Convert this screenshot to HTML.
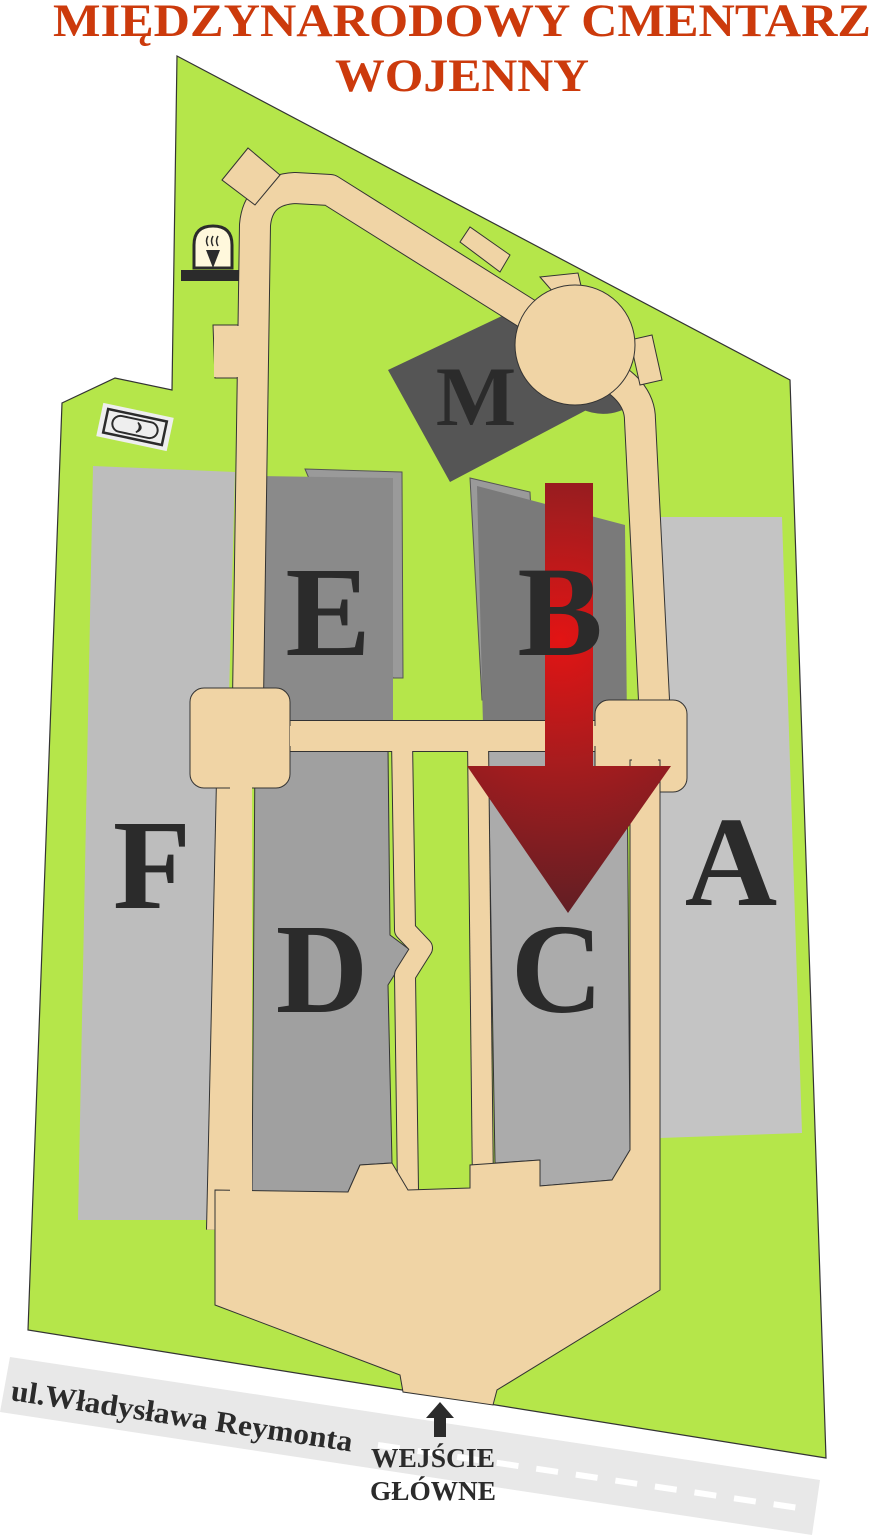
<!DOCTYPE html>
<html><head><meta charset="utf-8"><style>
html,body{margin:0;padding:0;background:#fff;}
svg{display:block;}
</style></head><body>
<svg width="871" height="1536" viewBox="0 0 871 1536" xmlns="http://www.w3.org/2000/svg">
<defs>
<radialGradient id="rg" cx="560" cy="640" r="280" gradientUnits="userSpaceOnUse">
<stop offset="0" stop-color="#e21414"/><stop offset="0.45" stop-color="#a61c1e"/><stop offset="1" stop-color="#5e1e24"/>
</radialGradient>
</defs>
<!-- road -->
<polygon points="10,1357 820,1480 812,1535 0,1412" fill="#e8e8e8"/>
<line x1="378" y1="1445" x2="812" y2="1510" stroke="#fff" stroke-width="6" stroke-dasharray="22,18"/>
<!-- green -->
<polygon points="177,56 790,380 826,1458 28,1330 62,403 115,378 172,390" fill="#b5e64a" stroke="#333" stroke-width="1.2"/>
<!-- grey sections -->
<polygon points="93,466 235,472 215,1220 78,1220" fill="#bdbdbd"/>
<polygon points="655,517 782,517 802,1133 660,1138" fill="#c4c4c4"/>
<polygon points="305,469 402,472 403,678 393,678" fill="#9a9a9a" stroke="#555" stroke-width="1"/>
<polygon points="258,476 393,478 393,725 258,725" fill="#8a8a8a"/>
<polygon points="470,478 530,492 540,700 482,700" fill="#9a9a9a" stroke="#555" stroke-width="1"/>
<polygon points="477,486 625,525 627,725 483,725" fill="#7a7a7a"/>
<polygon points="255,748 388,748 390,935 410,950 388,985 392,1163 360,1165 348,1192 252,1192" fill="#a0a0a0" stroke="#333" stroke-width="1"/>
<polygon points="488,748 627,748 630,1150 612,1180 540,1186 540,1160 495,1163" fill="#ababab" stroke="#333" stroke-width="1"/>
<!-- M -->
<polygon points="388,370 525,305 615,395 450,482" fill="#555"/>
<path d="M560,395 Q600,430 640,400 L625,390 Z" fill="#555"/>
<!-- notch -->
<polygon points="213,325 240,325 240,378 215,378" fill="#f0d4a5" stroke="#333" stroke-width="1"/>
<!-- paths outline -->
<g fill="none" stroke-linejoin="round" stroke-linecap="butt">
<g stroke="#333" stroke-width="32">
<path d="M248,700 L255,225 Q258,190 295,188 L330,190 L545,325"/>
<path d="M600,370 Q640,390 640,420 L655,720"/>
<path d="M200,736 L680,736"/>
<path d="M232,780 L222,1230"/>
<path d="M402,740 L405,930 L422,948 L405,975 L408,1190" stroke-width="22"/>
<path d="M478,740 L483,1190" stroke-width="22"/>
</g>
<g stroke="#f0d4a5" stroke-width="30">
<path d="M248,700 L255,225 Q258,190 295,188 L330,190 L545,325"/>
<path d="M600,370 Q640,390 640,420 L655,720"/>
<path d="M200,736 L680,736"/>
<path d="M232,780 L222,1230"/>
<path d="M402,740 L405,930 L422,948 L405,975 L408,1190" stroke-width="20"/>
<path d="M478,740 L483,1190" stroke-width="20"/>
</g>
</g>
<rect x="214" y="326" width="30" height="51" fill="#f0d4a5"/>
<polygon points="222,180 248,148 280,175 255,205" fill="#f0d4a5" stroke="#333" stroke-width="1"/>
<polygon points="460,242 470,227 510,255 500,272" fill="#f0d4a5" stroke="#333" stroke-width="1"/>
<polygon points="540,277 578,273 582,290 560,300" fill="#f0d4a5" stroke="#333" stroke-width="1"/>
<polygon points="630,340 652,335 662,380 640,385" fill="#f0d4a5" stroke="#333" stroke-width="1"/>
<circle cx="575" cy="345" r="60" fill="#f0d4a5" stroke="#333" stroke-width="1"/>
<rect x="190" y="688" width="100" height="100" rx="14" fill="#f0d4a5" stroke="#333" stroke-width="1"/>
<rect x="595" y="700" width="92" height="92" rx="14" fill="#f0d4a5" stroke="#333" stroke-width="1"/>
<polygon points="215,1190 348,1192 360,1165 392,1163 408,1190 470,1188 470,1165 540,1160 540,1186 612,1180 630,1150 630,760 660,760 660,1290 497,1390 493,1405 403,1392 400,1375 215,1305" fill="#f0d4a5" stroke="#333" stroke-width="1"/>
<rect x="230" y="748" width="22" height="450" fill="#f0d4a5"/>
<rect x="632" y="745" width="26" height="440" fill="#f0d4a5"/>
<rect x="290" y="726" width="340" height="20" fill="#f0d4a5"/>
<!-- red arrow -->
<rect x="545" y="483" width="48" height="290" fill="url(#rg)"/>
<polygon points="467,766 671,766 568,913" fill="url(#rg)"/>
<!-- letters -->
<g font-family="Liberation Serif, serif" font-weight="bold" fill="#2b2b2b" text-anchor="middle">
<text x="328" y="655" font-size="128">E</text>
<text x="560" y="655" font-size="128">B</text>
<text x="152" y="908" font-size="128">F</text>
<text x="731" y="905" font-size="128">A</text>
<text x="322" y="1012" font-size="128">D</text>
<text x="557" y="1012" font-size="128">C</text>
<text x="476" y="425" font-size="85">M</text>
</g>
<!-- icons -->
<g>
<path d="M194,268 L194,245 Q194,226 213,226 Q232,226 232,245 L232,268 Z" fill="#fff8dc" stroke="#2b2b2b" stroke-width="3"/>
<rect x="181" y="270" width="58" height="11" fill="#2b2b2b"/>
<polygon points="206,250 220,250 213,268" fill="#2b2b2b"/>
<path d="M208,246 q-3,-5 0,-10 M213,246 q-3,-5 0,-10 M218,246 q-3,-5 0,-10" stroke="#2b2b2b" stroke-width="1.5" fill="none"/>
</g>
<g transform="translate(135,427) rotate(12)">
<rect x="-36" y="-17" width="72" height="34" fill="#eee"/>
<rect x="-30" y="-12" width="60" height="24" fill="none" stroke="#2b2b2b" stroke-width="2.5"/>
<rect x="-23" y="-8" width="46" height="16" rx="8" fill="none" stroke="#2b2b2b" stroke-width="2"/>
<path d="M2,-5 Q10,0 2,5 Q7,0 2,-5 Z" fill="#2b2b2b" stroke="#2b2b2b" stroke-width="1.5"/>
</g>
<!-- title -->
<g font-family="Liberation Serif, serif" font-weight="bold" fill="#cc3a0c" text-anchor="middle" font-size="47">
<text x="462" y="36" textLength="818" lengthAdjust="spacingAndGlyphs">MIĘDZYNARODOWY CMENTARZ</text>
<text x="462" y="91" textLength="254" lengthAdjust="spacingAndGlyphs">WOJENNY</text>
</g>
<!-- street -->
<text x="10" y="1400" transform="rotate(8.6 10 1400)" font-family="Liberation Serif, serif" font-weight="bold" font-size="30" fill="#2b2b2b" textLength="345" lengthAdjust="spacingAndGlyphs">ul.Władysława Reymonta</text>
<polygon points="434,1437 434,1418 426,1418 440,1402 454,1418 446,1418 446,1437" fill="#2b2b2b"/>
<g font-family="Liberation Serif, serif" font-weight="bold" font-size="27" fill="#2b2b2b" text-anchor="middle">
<text x="433" y="1467" textLength="124" lengthAdjust="spacingAndGlyphs">WEJŚCIE</text>
<text x="433" y="1500" textLength="126" lengthAdjust="spacingAndGlyphs">GŁÓWNE</text>
</g>
</svg>
</body></html>
